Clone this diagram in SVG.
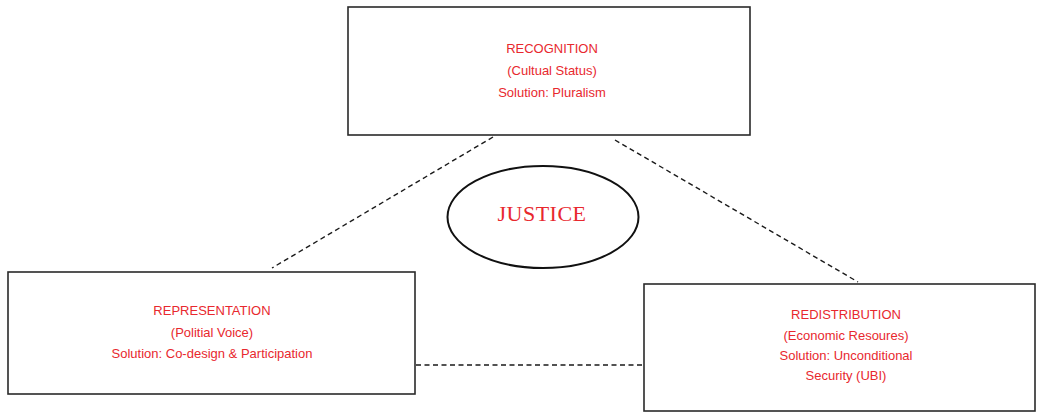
<svg xmlns="http://www.w3.org/2000/svg" width="1039" height="413" viewBox="0 0 1039 413">
<style>
.box{fill:#fff;stroke:#2a2a2a;stroke-width:1.6}
.lbl{font-family:"Liberation Sans",Arial,sans-serif;font-size:13px;fill:#e8282e;text-anchor:middle}
.conn{stroke:#1a1a1a;stroke-width:1.4;stroke-dasharray:5 3.5;fill:none}
.title{font-family:"Liberation Serif","Times New Roman",serif;font-size:22px;fill:#e8282e;text-anchor:middle;letter-spacing:0.5px}
</style>
<rect width="1039" height="413" fill="#fff"/>
<g id="connectors">
<line class="conn" x1="493" y1="137" x2="272" y2="268"/>
<line class="conn" x1="615" y1="140" x2="858" y2="282"/>
<line class="conn" x1="416" y1="365" x2="643" y2="365"/>
</g>
<g id="recognition">
<rect class="box" x="348" y="7" width="402" height="128"/>
<text class="lbl" x="552" y="53">RECOGNITION</text>
<text class="lbl" x="552" y="75">(Cultual Status)</text>
<text class="lbl" x="552" y="97">Solution: Pluralism</text>
</g>
<g id="justice">
<ellipse cx="543" cy="217" rx="95.5" ry="51" fill="#fff" stroke="#111" stroke-width="2"/>
<text class="title" x="542" y="221">JUSTICE</text>
</g>
<g id="representation">
<rect class="box" x="8" y="272" width="407" height="122"/>
<text class="lbl" x="212" y="315">REPRESENTATION</text>
<text class="lbl" x="212" y="337">(Politial Voice)</text>
<text class="lbl" x="212" y="358">Solution: Co-design &amp; Participation</text>
</g>
<g id="redistribution">
<rect class="box" x="644" y="284" width="391" height="127"/>
<text class="lbl" x="846" y="319">REDISTRIBUTION</text>
<text class="lbl" x="846" y="340">(Economic Resoures)</text>
<text class="lbl" x="846" y="360">Solution: Unconditional</text>
<text class="lbl" x="846" y="380">Security (UBI)</text>
</g>
</svg>
